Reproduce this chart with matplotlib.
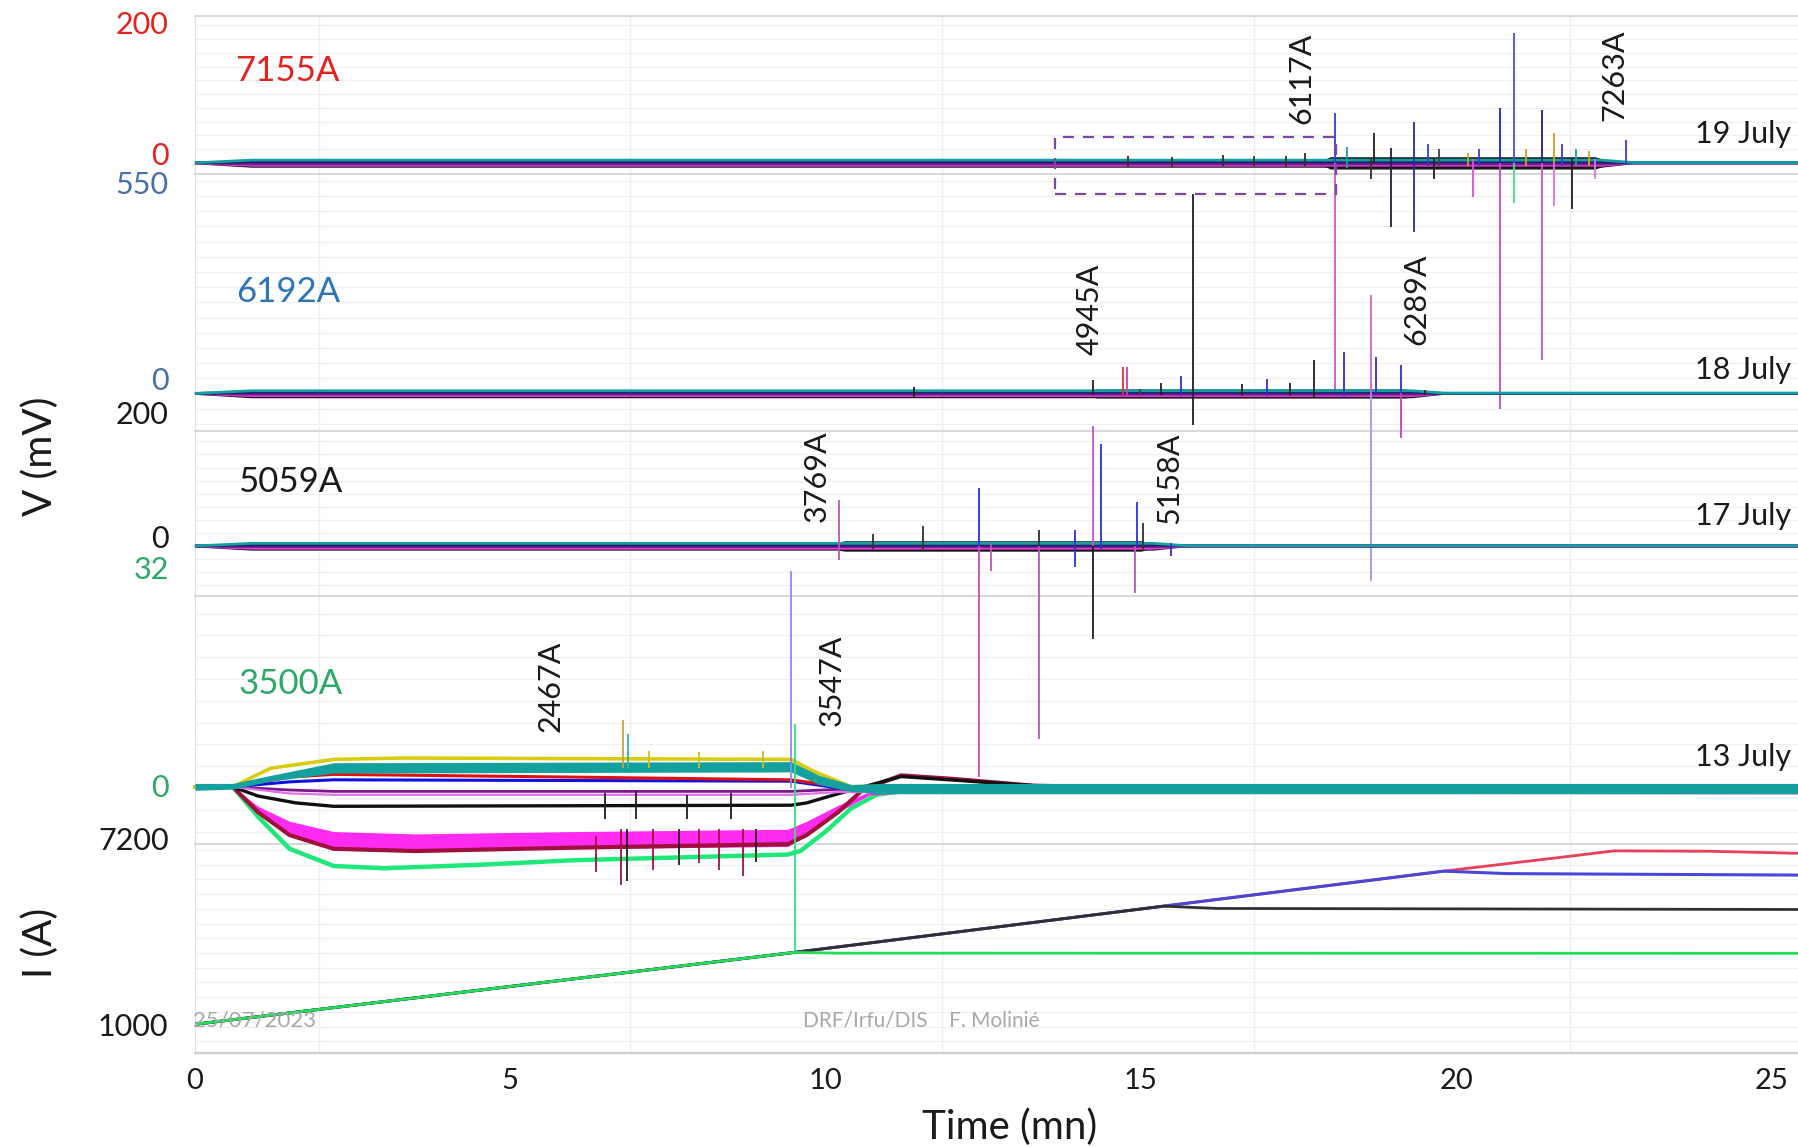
import matplotlib
matplotlib.use("Agg")
import matplotlib.pyplot as plt
from matplotlib.patches import Rectangle
from matplotlib.ticker import MultipleLocator

plt.rcParams['font.family'] = ['Lato', 'DejaVu Sans']

# ---------------- data ----------------
T_END = 25.42
time_ticks = [0, 5, 10, 15, 20, 25]
vgrid_t = [1.96, 6.9, 11.85, 16.8, 21.8]

# --- 19 July, 7155 A (mV) ---
a_base_t = [0.0, 0.9, 22.3, 22.8, T_END]
a_base = [
    ('#101010', [0, -5, -5, 0, 0]),
    ('#e040e0', [0, -3.5, -3.5, 0, 0]),
    ('#7a1f8a', [0, -1.5, -1.5, 0, 0]),
    ('#1a1a70', [0, 1.5, 1.5, 0, 0]),
    ('#14a0a0', [0, 4, 4, 0.5, 0.5]),
]
a_noise_t = [17.8, 18.0, 22.2, 22.5]
a_noise = [0, 9, 9, 0]
a_spikes = [
    (14.8, -6, 10, '#303030'), (15.5, -6, 9, '#303030'), (16.3, -5, 12, '#303030'),
    (16.8, -5, 10, '#303030'), (17.3, -6, 10, '#303030'), (17.6, -5, 14, '#303030'),
    (18.07, 0, 72, '#3a3ad8'), (18.07, -335, 0, '#d455d4'),
    (18.27, -8, 23, '#1aa0a0'), (18.64, -23, 5, '#303030'), (18.69, 0, 43, '#202020'),
    (18.96, -93, 22, '#202040'), (19.33, -100, 60, '#2a2aa0'), (19.55, -5, 27, '#3a3ad8'),
    (19.64, -23, 5, '#202020'), (19.73, -5, 20, '#404040'), (20.18, -5, 15, '#d4a020'),
    (20.27, -50, 5, '#d455d4'), (20.36, -5, 20, '#3a3ad8'), (20.69, 0, 80, '#2222c0'),
    (20.69, -358, 0, '#c445c4'), (20.91, 0, 188, '#4a4ae6'), (20.91, -58, 0, '#40e080'),
    (21.10, -5, 20, '#d4a020'), (21.36, 0, 77, '#202080'), (21.36, -287, 0, '#c855c8'),
    (21.55, 0, 43, '#c8a030'), (21.55, -62, 0, '#e070e0'), (21.67, -5, 28, '#3a3ad8'),
    (21.84, -67, 5, '#202020'), (21.90, -5, 20, '#1aa0a0'), (22.10, -5, 17, '#d4a020'),
    (22.20, -23, 5, '#d080d0'), (22.69, -3, 33, '#3a3ad8'),
]
a_box_t = [13.64, 18.09]
a_box_v = [-45, 38]

# --- 18 July, 6192 A (mV) ---
b_base_t = [0.0, 0.9, 19.3, 19.8, T_END]
b_base = [
    ('#101010', [0, -9, -9, 0, 0]),
    ('#e040e0', [0, -6, -6, 0, 0]),
    ('#7a1f8a', [0, -2, -2, 0, 0]),
    ('#1a1a70', [0, 3, 3, 0, 0]),
    ('#14a0a0', [0, 7, 7, 1, 1]),
]
b_noise_t = [13.9, 14.3, 19.2, 19.4]
b_noise = [0, 12, 12, 0]
b_spikes = [
    (11.4, -12, 18, '#202020'), (14.24, -5, 36, '#202020'), (14.71, -5, 70, '#e03030'),
    (14.78, -5, 70, '#d040a0'), (14.98, -3, 12, '#404040'), (15.31, -5, 27, '#202020'),
    (15.64, -8, 45, '#3030c0'), (15.82, -82, 526, '#202020'), (16.6, -6, 24, '#202020'),
    (17.0, -6, 39, '#3030c0'), (17.36, -6, 27, '#202020'), (17.75, -10, 88, '#202020'),
    (18.22, -8, 109, '#3030d0'), (18.65, 0, 260, '#d060d0'), (18.65, -493, 0, '#9a9af0'),
    (18.73, -5, 97, '#3030d0'), (19.13, -5, 76, '#3030d0'), (19.13, -118, 0, '#c040c0'),
    (19.5, -3, 10, '#202020'),
]

# --- 17 July, 5059 A (mV) ---
c_base_t = [0.0, 0.9, 15.2, 15.7, T_END]
c_base = [
    ('#101010', [0, -5, -5, 0, 0]),
    ('#e040e0', [0, -3.5, -3.5, 0, 0]),
    ('#7a1f8a', [0, -1, -1, 0, 0]),
    ('#1a1a70', [0, 1.5, 1.5, 0, 0]),
    ('#14a0a0', [0, 4, 4, 0.5, 0.5]),
]
c_noise_t = [9.9, 10.3, 15.0, 15.3]
c_noise = [0, 8, 8, 0]
c_spikes = [
    (10.22, -21, 70, '#c050c0'), (10.75, -5, 19, '#303030'), (11.55, -8, 30, '#303030'),
    (12.44, 0, 89, '#3030d0'), (12.44, -353, 0, '#c050c0'), (12.62, -39, 5, '#c050c0'),
    (13.38, -5, 25, '#303030'), (13.38, -296, 0, '#c050c0'), (13.96, -32, 25, '#3030c0'),
    (14.24, 0, 184, '#d050d0'), (14.24, -142, 0, '#202020'), (14.36, -5, 156, '#3030d0'),
    (14.91, -72, 0, '#c050c0'), (14.93, 0, 68, '#3030d0'), (15.04, -5, 35, '#303030'),
    (15.47, -16, 5, '#3030d0'),
]

# --- 13 July, 3500 A (mV) ---
d_green_t = [0.6, 1.0, 1.5, 2.2, 3.0, 4.5, 6.0, 9.4, 9.6, 10.0, 10.4, 10.8, 11.3, T_END]
d_green = [0.17, -4.21, -8.93, -11.45, -11.79, -11.28, -10.61, -9.77, -9.26, -6.40, -3.03, -1.01, -0.34, -0.34]
d_mag_t = [0.6, 1.0, 1.5, 2.2, 3.5, 6.0, 9.4, 9.7, 10.2, 10.7, 11.5, T_END]
d_mag_hi = [0.17, -2.69, -4.88, -6.40, -6.74, -6.40, -6.06, -4.88, -2.53, -0.51, -0.17, -0.17]
d_mag_lo = [0.0, -3.54, -6.74, -8.93, -9.26, -8.93, -8.59, -6.91, -3.54, -1.01, -0.67, -0.67]
d_crim_t = [0.6, 1.0, 1.5, 2.2, 3.5, 6.0, 9.4, 9.7, 10.2, 10.6, 11.2, 12.0, 13.3, 15.0, T_END]
d_crim = [0.17, -3.54, -6.91, -8.93, -9.26, -8.76, -8.25, -6.91, -3.54, -0.17, 1.85, 1.35, 0.34, 0.0, 0.0]
d_black_t = [0.0, 0.6, 1.0, 1.6, 2.2, 9.45, 9.7, 10.2, 10.6, 11.2, 12.0, 13.3, 15.0, T_END]
d_black = [0.17, 0.17, -1.18, -2.19, -2.69, -2.53, -2.19, -0.84, 0.17, 1.68, 1.18, 0.34, 0.0, 0.0]
d_purple_t = [0.6, 1.5, 2.2, 9.45, 10.2, T_END]
d_purple = [0.17, -0.3, -0.5, -0.5, -0.2, -0.3]
d_pink_t = [0.6, 1.5, 2.2, 9.45, 10.2, T_END]
d_pink = [0.17, -0.8, -1.0, -1.0, -0.6, -0.8]
d_blue_t = [0.6, 1.5, 2.2, 9.45, 10.2, T_END]
d_blue = [0.17, 0.9, 1.2, 1.0, 0.0, 0.0]
d_red_t = [0.6, 1.5, 2.2, 6.0, 9.45, 10.0, 10.4, T_END]
d_red = [0.17, 1.6, 2.0, 1.6, 1.2, 0.5, 0.0, 0.0]
d_yellow_t = [0.0, 0.6, 1.2, 2.2, 3.3, 9.45, 9.8, 10.4, T_END]
d_yellow = [0.17, 0.17, 2.9, 4.2, 4.4, 4.2, 2.5, 0.2, 0.2]
d_teal_t = [0.0, 0.6, 1.2, 2.2, 9.45, 9.9, 10.4, 10.9, T_END]
d_teal_hi = [0.67, 0.67, 1.85, 3.71, 3.87, 1.85, 0.51, 0.67, 0.67]
d_teal_lo = [-0.34, -0.17, 1.01, 2.19, 2.36, 0.51, -0.51, -0.84, -0.84]
d_spikes = [
    (9.45, 0, 31.8, '#8a8af5'), (9.51, -24.3, 9.4, '#30e080'),
    (6.78, 3, 10, '#d0a040'), (6.87, 3, 8, '#40b0a0'),
    (7.2, 3, 5.5, '#c8c020'), (8.0, 3, 5.3, '#c8c020'), (9.0, 3, 5.5, '#c8c020'),
    (6.36, -12.3, -7, '#a01040'), (6.75, -14.3, -6, '#a01040'), (6.85, -13.6, -6, '#202020'),
    (7.27, -12.1, -6, '#a01040'), (7.67, -11.3, -6, '#202020'), (8.0, -11.0, -6, '#a01040'),
    (8.31, -12.1, -6, '#a01040'), (8.69, -12.95, -6, '#a01040'), (8.9, -10.9, -6, '#202020'),
    (6.5, -4.5, -0.8, '#202020'), (7.0, -4.5, -0.5, '#202020'),
    (7.8, -4.5, -1.0, '#202020'), (8.5, -4.5, -0.7, '#202020'),
]

# --- current (A) ---
i_red_t = [0, 9.5, 15.36, 19.8, 21.8, 22.5, 24.0, T_END]
i_red = [1078, 3520, 5094, 6284, 6790, 6974, 6960, 6890]
i_blue_t = [0, 9.5, 15.36, 19.8, 20.8, T_END]
i_blue = [1078, 3520, 5094, 6284, 6200, 6150]
i_black_t = [0, 9.5, 15.36, 16.2, T_END]
i_black = [1078, 3520, 5094, 5016, 4980]
i_green_t = [0, 9.5, 10.2, T_END]
i_green = [1078, 3520, 3496, 3490]

# ---------------- layout ----------------
RW, RH = 1568.0, 1000.0
X_LEFT = 170.0
PX_PER_MIN = 55.0
XMAX = (RW - X_LEFT) / PX_PER_MIN
TXT = '#1a1a1a'
GRID = '#f0f0f0'
SEP = '#d6d6d6'

fig = plt.figure(figsize=(17.98, 11.47), dpi=100)


def fx(x):
    return x / RW


def fy(y):
    return 1 - y / RH


def make_panel(top, bot, v0, y0, v1, y1, minor):
    k = (y0 - y1) / (v1 - v0)
    rect = [X_LEFT / RW, 1 - bot / RH, 1 - X_LEFT / RW, (bot - top) / RH]
    ylim = (v0 - (bot - y0) / k, v0 + (y0 - top) / k)
    # background axes: grid and separators (drawn beneath every data axes)
    bg = fig.add_axes(rect, zorder=0)
    bg.set_xlim(0, XMAX)
    bg.set_ylim(*ylim)
    bg.patch.set_alpha(0)
    for s in bg.spines.values():
        s.set_visible(False)
    bg.spines['top'].set_visible(True)
    bg.spines['top'].set_color(SEP)
    bg.spines['top'].set_linewidth(1.3)
    bg.spines['left'].set_visible(True)
    bg.spines['left'].set_color('#e0e0e0')
    bg.set_xticks([])
    bg.set_yticks([])
    bg.yaxis.set_minor_locator(MultipleLocator(minor))
    bg.tick_params(which='minor', length=0)
    bg.grid(True, which='minor', axis='y', color=GRID, lw=0.9)
    for t in vgrid_t:
        bg.axvline(t, color='#efefef', lw=1.0)
    # data axes
    ax = fig.add_axes(rect, zorder=1)
    ax.set_xlim(0, XMAX)
    ax.set_ylim(*ylim)
    ax.patch.set_alpha(0)
    for s in ax.spines.values():
        s.set_visible(False)
    ax.set_xticks([])
    ax.set_yticks([])
    return ax, bg


def tick_label(ax, v, text, color, dy=0):
    ax.annotate(text, xy=(0, v), xycoords=('axes fraction', 'data'),
                xytext=(-19, dy), textcoords='offset points', ha='right', va='center',
                fontsize=22, color=color, annotation_clip=False)


def draw_spikes(ax, spikes, lw=1.3):
    for t, lo, hi, c in spikes:
        ax.vlines(t, lo, hi, colors=c, lw=lw, zorder=6, clip_on=False)


def draw_base(ax, tt, traces, noise_t, noise):
    ax.fill_between(noise_t, [-n for n in noise], noise, color='#1c1c1c', lw=0,
                    zorder=2, clip_on=False)
    for c, vals in traces:
        ax.plot(tt, vals, color=c, lw=2.0, zorder=3, clip_on=False,
                solid_capstyle='butt')


RED = '#e3231f'
BLUEGREY = '#4a6ea8'
GREEN = '#2ea869'

# Panel A
axA, _ = make_panel(14, 152, 0, 142, 200, 22, 20)
draw_base(axA, a_base_t, a_base, a_noise_t, a_noise)
draw_spikes(axA, a_spikes)
axA.add_patch(Rectangle((a_box_t[0], a_box_v[0]), a_box_t[1] - a_box_t[0],
                        a_box_v[1] - a_box_v[0], fill=False, ec='#7b48a8',
                        ls=(0, (5, 4)), lw=1.6, zorder=7, clip_on=False))
tick_label(axA, 200, '200', RED)
tick_label(axA, 0, '0', RED, dy=5)

# Panel B
axB, _ = make_panel(152, 376, 0, 343, 550, 161, 40)
draw_base(axB, b_base_t, b_base, b_noise_t, b_noise)
draw_spikes(axB, b_spikes)
tick_label(axB, 550, '550', BLUEGREY)
tick_label(axB, 0, '0', BLUEGREY, dy=9)

# Panel C
axC, _ = make_panel(376, 520, 0, 476, 200, 362, 20)
draw_base(axC, c_base_t, c_base, c_noise_t, c_noise)
draw_spikes(axC, c_spikes)
tick_label(axC, 200, '200', TXT)
tick_label(axC, 0, '0', TXT, dy=5)

# Panel D
axD, _ = make_panel(520, 736, 0, 687, 32, 497, 3.2)
axD.plot(d_green_t, d_green, color='#1ee87a', lw=3.2, zorder=3, clip_on=False)
axD.fill_between(d_mag_t, d_mag_lo, d_mag_hi, color='#ff2bf0', lw=0, zorder=3, clip_on=False)
axD.plot(d_crim_t, d_crim, color='#a0103c', lw=3.0, zorder=3, clip_on=False)
axD.plot(d_black_t, d_black, color='#101010', lw=2.4, zorder=3, clip_on=False)
axD.plot(d_purple_t, d_purple, color='#7a1a8a', lw=2.0, zorder=3, clip_on=False)
axD.plot(d_pink_t, d_pink, color='#e070e8', lw=1.6, zorder=3, clip_on=False)
axD.plot(d_blue_t, d_blue, color='#1010e0', lw=2.2, zorder=3, clip_on=False)
axD.plot(d_red_t, d_red, color='#e01010', lw=2.2, zorder=3, clip_on=False)
axD.plot(d_yellow_t, d_yellow, color='#d8cc10', lw=2.6, zorder=3, clip_on=False)
axD.fill_between(d_teal_t, d_teal_lo, d_teal_hi, color='#14a09c', lw=0, zorder=4, clip_on=False)
draw_spikes(axD, d_spikes)
tick_label(axD, 32, '32', GREEN)
tick_label(axD, 0, '0', GREEN)

# Panel E (current)
axE, bgE = make_panel(736, 918, 1000, 895, 7200, 736, 500)
bgE.spines['bottom'].set_visible(True)
bgE.spines['bottom'].set_color('#cfcfcf')
bgE.spines['bottom'].set_linewidth(1.6)
axE.plot(i_red_t, i_red, color='#e8405a', lw=2.0, zorder=3)
axE.plot(i_blue_t, i_blue, color='#4848d8', lw=2.2, zorder=3)
axE.plot(i_black_t, i_black, color='#303030', lw=2.0, zorder=3)
axE.plot(i_green_t, i_green, color='#22dd55', lw=2.0, zorder=3)
tick_label(axE, 7200, '7200', TXT, dy=2)
tick_label(axE, 1000, '1000', TXT)
axE.set_xticks(time_ticks)
axE.set_xticklabels([str(t) for t in time_ticks])
axE.tick_params(axis='x', length=0, pad=11, labelsize=21, labelcolor=TXT)

# ---------------- texts ----------------
fig.text(fx(205), fy(62), '7155A', color=RED, fontsize=25, va='center')
fig.text(fx(206), fy(255), '6192A', color='#2e75b6', fontsize=25, va='center')
fig.text(fx(208), fy(420), '5059A', color=TXT, fontsize=25, va='center')
fig.text(fx(208), fy(596), '3500A', color=GREEN, fontsize=25, va='center')

for x, y, s in [(1135, 68, '6117A'), (1408, 66, '7263A'), (950, 270, '4945A'),
                (1235, 261, '6289A'), (712, 415, '3769A'), (1020, 417, '5158A'),
                (480, 598, '2467A'), (725, 593, '3547A')]:
    fig.text(fx(x), fy(y), s, rotation=90, ha='center', va='center', fontsize=22, color=TXT)

for y, s in [(117, '19 July'), (323, '18 July'), (450, '17 July'), (660, '13 July')]:
    fig.text(fx(1562), fy(y), s, ha='right', va='center', fontsize=22, color=TXT)

fig.text(fx(168), fy(890), '25/07/2023', ha='left', va='center', fontsize=16, color='#a8a8a8')
fig.text(fx(700), fy(890), 'DRF/Irfu/DIS    F. Molinié', ha='left', va='center',
         fontsize=15, color='#a8a8a8')

fig.text(fx(35), fy(398), 'V (mV)', rotation=90, ha='center', va='center', fontsize=29, color=TXT)
fig.text(fx(35), fy(822), 'I (A)', rotation=90, ha='center', va='center', fontsize=29, color=TXT)
fig.text(fx(880), fy(983), 'Time (mn)', ha='center', va='center', fontsize=29, color=TXT)

fig.savefig('out.png', dpi=100, facecolor='white')
